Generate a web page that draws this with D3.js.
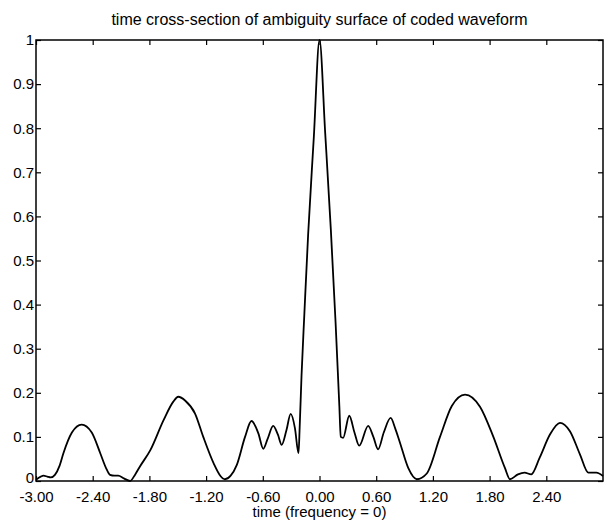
<!DOCTYPE html>
<html>
<head>
<meta charset="utf-8">
<script src="https://cdnjs.cloudflare.com/ajax/libs/d3/7.8.5/d3.min.js"></script>
<style>
  body { margin: 0; background: #fff; }
  text { font-family: "Liberation Sans", Arial, Helvetica, sans-serif; fill: #000; }
</style>
</head>
<body>
<script>
/* Time offsets */
var timeValues = [
  -3.00, -2.95, -2.92, -2.88, -2.845, -2.80, -2.75, -2.71, -2.62, -2.517,
  -2.41, -2.32, -2.26, -2.217, -2.17, -2.13, -2.07, -2.005, -1.95, -1.90,
  -1.79, -1.65, -1.547, -1.494, -1.42, -1.317, -1.23, -1.12, -1.05, -1.00,
  -0.94, -0.876, -0.788, -0.72, -0.647, -0.595, -0.55, -0.49, -0.44, -0.40,
  -0.35, -0.305, -0.26, -0.222, -0.21, -0.19, -0.16, -0.12, -0.06, 0.00,
  0.06, 0.12, 0.17, 0.21, 0.225, 0.25, 0.315, 0.37, 0.42, 0.515,
  0.57, 0.62, 0.68, 0.753, 0.80, 0.85, 0.94, 1.03, 1.135, 1.275,
  1.40, 1.54, 1.70, 1.84, 1.963, 2.016, 2.10, 2.17, 2.24, 2.33,
  2.44, 2.545, 2.65, 2.757, 2.845, 2.93, 3.00
];

/* Normalised ambiguity magnitude at those offsets */
var ambiguityValues = [
  0.003, 0.010, 0.012, 0.010, 0.008, 0.014, 0.035, 0.063, 0.110, 0.128,
  0.110, 0.063, 0.030, 0.014, 0.012, 0.012, 0.006, 0.000, 0.015, 0.033,
  0.070, 0.138, 0.180, 0.191, 0.182, 0.153, 0.100, 0.040, 0.012, 0.004,
  0.012, 0.036, 0.100, 0.136, 0.108, 0.073, 0.095, 0.125, 0.105, 0.082,
  0.115, 0.152, 0.120, 0.063, 0.120, 0.240, 0.380, 0.560, 0.780, 1.000,
  0.790, 0.570, 0.360, 0.170, 0.100, 0.098, 0.148, 0.110, 0.080, 0.125,
  0.100, 0.072, 0.110, 0.143, 0.120, 0.088, 0.029, 0.004, 0.017, 0.100,
  0.170, 0.196, 0.168, 0.100, 0.029, 0.004, 0.015, 0.019, 0.015, 0.053,
  0.106, 0.132, 0.113, 0.060, 0.019, 0.019, 0.011
];

/* Axis ticks and labels */
var xTickValues = [-3.0, -2.4, -1.8, -1.2, -0.6, 0.0, 0.6, 1.2, 1.8, 2.4];
var yTickValues = [0, 0.1, 0.2, 0.3, 0.4, 0.5, 0.6, 0.7, 0.8, 0.9, 1];
var chartTitle = 'time cross-section of ambiguity surface of coded waveform';
var xAxisTitle = 'time (frequency = 0)';

var data = timeValues.map(function (t, i) {
  return {t: t, v: ambiguityValues[i]};
});

/* Plot margins */
var margin = {top: 40, right: 1, bottom: 39, left: 36},
    width = 604 - margin.left - margin.right,
    height = 520 - margin.top - margin.bottom;

var svg = d3.select('body')
  .append('svg')
  .attr('width', 604)
  .attr('height', 520);

var g = svg.append('g')
  .attr('transform', 'translate(' + margin.left + ',' + margin.top + ')');

var x = d3.scaleLinear().domain([-3, 3]).range([0, width]);
var y = d3.scaleLinear().domain([0, 1]).range([height, 0]);

/* Inward ticks on all four sides; plain hyphen for negatives */
var tickLen = 5;
var bottomAxis = d3.axisBottom(x).tickValues(xTickValues)
  .tickSize(-tickLen).tickPadding(10)
  .tickFormat(function (d) { return (Math.abs(d) < 1e-9 ? 0 : d).toFixed(2); });
var topAxis = d3.axisTop(x).tickValues(xTickValues)
  .tickSize(-tickLen).tickFormat('');
var leftAxis = d3.axisLeft(y).tickValues(yTickValues)
  .tickSize(-tickLen).tickPadding(2)
  .tickFormat(function (d) { return String(+d.toFixed(1)); });
var rightAxis = d3.axisRight(y).tickValues(yTickValues)
  .tickSize(-tickLen).tickFormat('');

function styleAxis(sel) {
  sel.select('.domain').remove();
  sel.selectAll('line').attr('stroke', '#000').attr('stroke-width', 1.2);
  sel.selectAll('text').attr('font-size', 15).attr('fill', '#000')
    .attr('font-family', '"Liberation Sans", Arial, sans-serif');
}

g.append('g').attr('transform', 'translate(0,' + height + ')').call(bottomAxis).call(styleAxis);
g.append('g').call(topAxis).call(styleAxis);
var yAxisG = g.append('g').call(leftAxis).call(styleAxis);

/* Lift the "0" label a little so it clears "-3.00", as in the reference */
yAxisG.selectAll('.tick text')
  .filter(function (d) { return d === 0; })
  .attr('dy', '0.1em');

g.append('g').attr('transform', 'translate(' + width + ',0)').call(rightAxis).call(styleAxis);

/* Frame */
g.append('rect')
  .attr('x', 0).attr('y', 0)
  .attr('width', width).attr('height', height)
  .attr('fill', 'none')
  .attr('stroke', '#000')
  .attr('stroke-width', 1.5);

/* The curve */
var line = d3.line()
  .x(function (d) { return x(d.t); })
  .y(function (d) { return y(d.v); })
  .curve(d3.curveMonotoneX);

g.append('path')
  .datum(data)
  .attr('d', line)
  .attr('fill', 'none')
  .attr('stroke', '#000')
  .attr('stroke-width', 1.8)
  .attr('stroke-linejoin', 'round');

/* Titles */
svg.append('text')
  .attr('x', margin.left + width / 2)
  .attr('y', 25)
  .attr('text-anchor', 'middle')
  .attr('font-size', 16)
  .text(chartTitle);

svg.append('text')
  .attr('x', margin.left + width / 2)
  .attr('y', 517)
  .attr('text-anchor', 'middle')
  .attr('font-size', 15)
  .text(xAxisTitle);
</script>
</body>
</html>
